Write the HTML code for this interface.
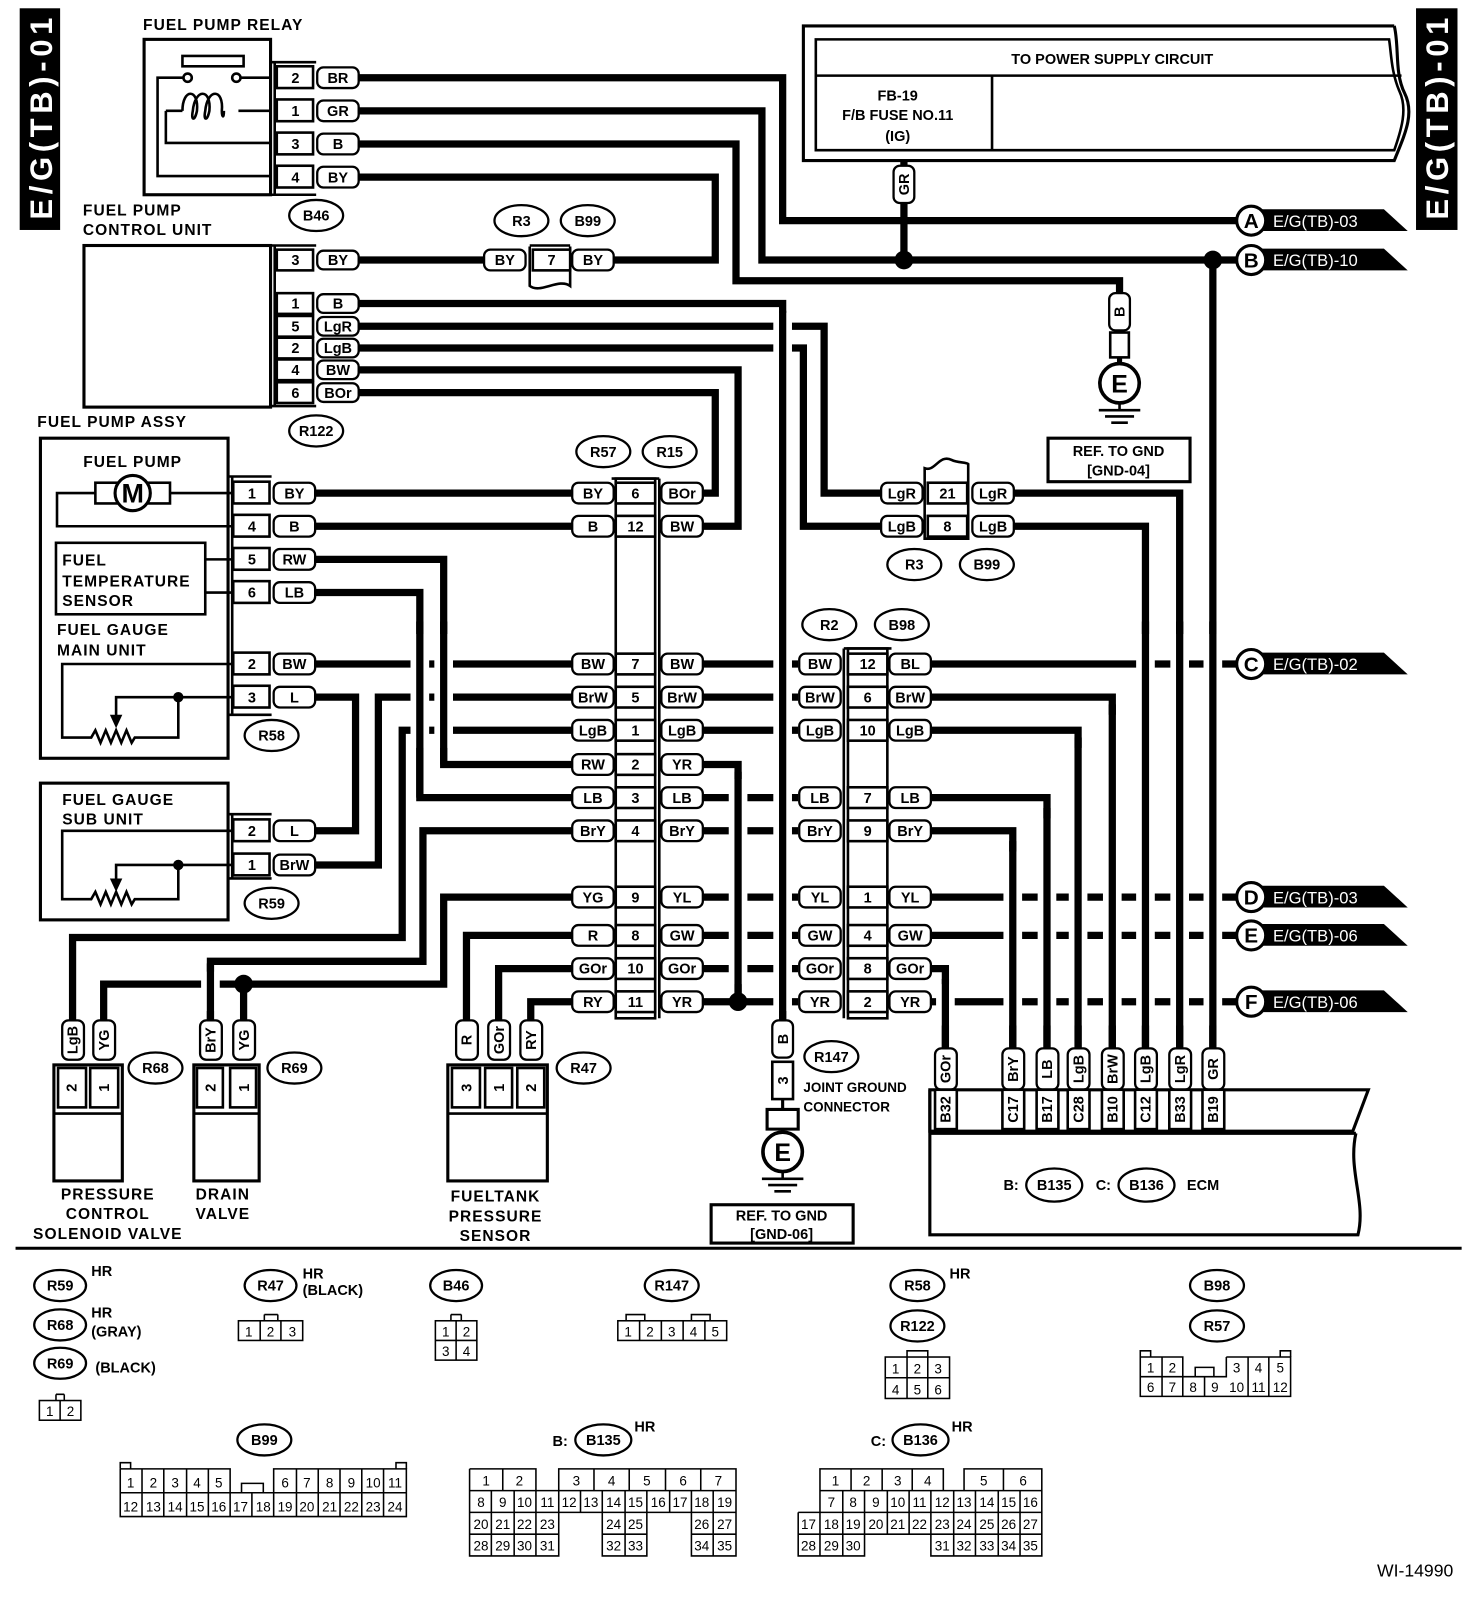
<!DOCTYPE html>
<html><head><meta charset="utf-8"><style>
html,body{margin:0;padding:0;background:#fff}
svg{display:block}
.w{stroke:#000;stroke-width:7;fill:none}
.h{stroke:#fff;stroke-width:18;fill:none}
.l{stroke:#000;stroke-width:2.5;fill:none}
.b{fill:#fff;stroke:#000;stroke-width:2.5}
.p{fill:#fff;stroke:#000;stroke-width:2.2}
text{font-family:"Liberation Sans",Arial,sans-serif;font-weight:bold;font-size:14px;fill:#000}
.c{text-anchor:middle}
.s{font-size:13px;font-weight:normal}
.lb{font-size:15px;letter-spacing:1px}
.wt{fill:#fff;font-size:16px;font-weight:normal}
</style></head><body>
<svg width="1472" height="1616" viewBox="0 0 1420 1560" preserveAspectRatio="none" xmlns="http://www.w3.org/2000/svg">
<rect x="0" y="0" width="1420" height="1560" fill="#fff"/>
<!-- side tabs -->
<rect x="19" y="8" width="39" height="214" fill="#000"/>
<text transform="translate(50,212) rotate(-90)" style="fill:#fff;font-size:30px" textLength="195">E/G(TB)-01</text>
<rect x="1366" y="8" width="40" height="214" fill="#000"/>
<text transform="translate(1397,212) rotate(-90)" style="fill:#fff;font-size:30px" textLength="195">E/G(TB)-01</text>

<!-- Fuel pump relay -->
<text x="138" y="29" class="lb">FUEL PUMP RELAY</text>
<rect x="139" y="38" width="122" height="150" class="l" style="stroke-width:3"/>
<rect x="176" y="54" width="59" height="10" class="l"/>
<circle cx="181" cy="75" r="4" class="b"/><circle cx="228" cy="75" r="4" class="b"/>
<path d="M177,75 H152 V170 H262 M232,75 H262 M160,107 H176 M230,107 H262 M160,107 V138 H262" class="l"/>
<path d="M176,107 c0,-22 16,-22 14,0 c-2,10 -6,10 -4,0 c2,-22 18,-22 16,0 c-2,10 -6,10 -4,0 c2,-22 18,-22 16,0 c0,6 2,8 2,0" class="l"/>
<path d="M262,60 H305 M262,188 H305 M265,60 V188" class="l"/>
<g>
<rect x="267" y="64" width="35" height="21" class="b"/><text x="285" y="80" class="c">2</text>
<rect x="267" y="96" width="35" height="21" class="b"/><text x="285" y="112" class="c">1</text>
<rect x="267" y="128" width="35" height="21" class="b"/><text x="285" y="144" class="c">3</text>
<rect x="267" y="160" width="35" height="21" class="b"/><text x="285" y="176" class="c">4</text>
</g>

<!-- Fuel pump control unit -->
<text x="80" y="208" class="lb">FUEL PUMP</text>
<text x="80" y="227" class="lb">CONTROL UNIT</text>
<rect x="81" y="237" width="180" height="156" class="l" style="stroke-width:3"/>
<path d="M262,237 H305 M262,392 H305 M265,237 V392" class="l"/>
<rect x="267" y="241" width="35" height="20" class="b"/><text x="285" y="256" class="c">3</text>
<rect x="267" y="283" width="35" height="20" class="b"/><text x="285" y="298" class="c">1</text>
<rect x="267" y="305" width="35" height="20" class="b"/><text x="285" y="320" class="c">5</text>
<rect x="267" y="326" width="35" height="20" class="b"/><text x="285" y="341" class="c">2</text>
<rect x="267" y="347" width="35" height="20" class="b"/><text x="285" y="362" class="c">4</text>
<rect x="267" y="369" width="35" height="20" class="b"/><text x="285" y="384" class="c">6</text>

<!-- Power supply box -->
<path d="M1345,25 H775 V155 H1345 C1355,130 1365,110 1355,90 C1345,70 1350,45 1345,25" class="l" style="stroke-width:3"/>
<path d="M1336,38 H787 V145 H1345 C1352,125 1358,105 1350,88 C1342,70 1342,50 1340,38 Z" class="l"/>
<path d="M787,73 H1352 M957,73 V145" class="l"/>
<text x="1073" y="62" class="c">TO POWER SUPPLY CIRCUIT</text>
<text x="866" y="97" class="c">FB-19</text>
<text x="866" y="116" class="c">F/B FUSE NO.11</text>
<text x="866" y="136" class="c">(IG)</text>

<!-- WIRES -->
<g class="w">
<path d="M346,75 H755 V213 H1193"/>
<path d="M346,107 H735 V251 H1193"/>
<path d="M346,139 H710 V271 H1080 V283"/>
<path d="M346,171 H690 V251 H592"/>
<path d="M872,155 V251"/>
<path d="M346,251 H467"/>
<path d="M346,293 H755 V985"/>
<path d="M346,315 H795 V476 H850"/>
<path d="M346,336 H775 V508 H850"/>
<path d="M346,357 H712 V508 H678"/>
<path d="M346,379 H690 V476 H678"/>
<path d="M304,476 H552 M304,508 H552"/>
<path d="M304,540 H428 V738 H552"/>
<path d="M304,572 H405 V770 H552"/>
<path d="M304,641 H552"/>
<path d="M304,673 H343 V802 H304"/>
<path d="M304,835 H365 V673 H552"/>
<path d="M552,705 H388 V905 H70 V985"/>
<path d="M552,802 H408 V928 H203 V985"/>
<path d="M552,866 H428 V950 H100 V985 M235,950 V985"/>
<path d="M552,903 H450 V985"/>
<path d="M552,935 H481 V985"/>
<path d="M552,967 H512 V985"/>
<path d="M678,641 H770 M678,673 H770 M678,705 H770 M678,770 H770 M678,802 H770 M678,866 H770 M678,903 H770 M678,935 H770 M678,967 H770"/>
<path d="M678,738 H712 V967"/>
<path d="M978,476 H1138 V1012 M978,508 H1105 V1012"/>
<path d="M898,641 H1193 M898,866 H1193 M898,903 H1193 M898,967 H1193"/>
<path d="M898,673 H1073 V1012 M898,705 H1040 V1012 M898,770 H1010 V1012 M898,802 H977 V1012 M898,935 H912 V1012"/>
<path d="M1170,251 V1012"/>
</g>
<!-- crossing halos -->
<g class="h">
<path d="M755,302 V976 M712,752 V950 M428,612 V722 M405,612 V722 M203,938 V976"/>
<path d="M1170,612 V990 M1138,612 V990 M1105,612 V990 M1073,690 V990 M1040,722 V990 M1010,790 V990 M977,822 V990 M912,950 V990"/>
</g>
<g class="w">
<path d="M755,300 V985 M712,745 V967 M428,600 V738 M405,600 V770 M203,930 V985"/>
<path d="M1170,600 V1012 M1138,600 V1012 M1105,600 V1012 M1073,680 V1012 M1040,712 V1012 M1010,780 V1012 M977,812 V1012 M912,945 V1012"/>
</g>
<g fill="#000">
<circle cx="872" cy="251" r="9"/><circle cx="1170" cy="251" r="9"/>
<circle cx="712" cy="967" r="9"/><circle cx="235" cy="950" r="9"/>
</g>

<!-- terminal arrows -->
<g>
<polygon points="1213,202 1335,202 1358,223 1213,223" fill="#000"/>
<circle cx="1207" cy="213" r="14" class="b" style="stroke-width:3"/><text x="1207" y="220" class="c" style="font-size:20px">A</text>
<text x="1228" y="219" class="wt">E/G(TB)-03</text>
<polygon points="1213,240 1335,240 1358,261 1213,261" fill="#000"/>
<circle cx="1207" cy="251" r="14" class="b" style="stroke-width:3"/><text x="1207" y="258" class="c" style="font-size:20px">B</text>
<text x="1228" y="257" class="wt">E/G(TB)-10</text>
<polygon points="1213,630 1335,630 1358,651 1213,651" fill="#000"/>
<circle cx="1207" cy="641" r="14" class="b" style="stroke-width:3"/><text x="1207" y="648" class="c" style="font-size:20px">C</text>
<text x="1228" y="647" class="wt">E/G(TB)-02</text>
<polygon points="1213,855 1335,855 1358,876 1213,876" fill="#000"/>
<circle cx="1207" cy="866" r="14" class="b" style="stroke-width:3"/><text x="1207" y="873" class="c" style="font-size:20px">D</text>
<text x="1228" y="872" class="wt">E/G(TB)-03</text>
<polygon points="1213,892 1335,892 1358,913 1213,913" fill="#000"/>
<circle cx="1207" cy="903" r="14" class="b" style="stroke-width:3"/><text x="1207" y="910" class="c" style="font-size:20px">E</text>
<text x="1228" y="909" class="wt">E/G(TB)-06</text>
<polygon points="1213,956 1335,956 1358,977 1213,977" fill="#000"/>
<circle cx="1207" cy="967" r="14" class="b" style="stroke-width:3"/><text x="1207" y="974" class="c" style="font-size:20px">F</text>
<text x="1228" y="973" class="wt">E/G(TB)-06</text>
</g>

<!-- horizontal pills -->
<g>
<rect x="306" y="65" width="40" height="20" rx="6" class="p"/><text x="326" y="80" class="c">BR</text>
<rect x="306" y="97" width="40" height="20" rx="6" class="p"/><text x="326" y="112" class="c">GR</text>
<rect x="306" y="129" width="40" height="20" rx="6" class="p"/><text x="326" y="144" class="c">B</text>
<rect x="306" y="161" width="40" height="20" rx="6" class="p"/><text x="326" y="176" class="c">BY</text>
<rect x="306" y="242" width="40" height="18" rx="6" class="p"/><text x="326" y="256" class="c">BY</text>
<rect x="306" y="284" width="40" height="18" rx="6" class="p"/><text x="326" y="298" class="c">B</text>
<rect x="306" y="306" width="40" height="18" rx="6" class="p"/><text x="326" y="320" class="c">LgR</text>
<rect x="306" y="327" width="40" height="18" rx="6" class="p"/><text x="326" y="341" class="c">LgB</text>
<rect x="306" y="348" width="40" height="18" rx="6" class="p"/><text x="326" y="362" class="c">BW</text>
<rect x="306" y="370" width="40" height="18" rx="6" class="p"/><text x="326" y="384" class="c">BOr</text>
<rect x="467" y="241" width="40" height="20" rx="6" class="p"/><text x="487" y="256" class="c">BY</text>
<rect x="552" y="241" width="40" height="20" rx="6" class="p"/><text x="572" y="256" class="c">BY</text>
</g>
<!-- upper R3/B99 joint -->
<path d="M511,237 H550 M511,238 V276 c10,8 28,-8 39,0 V238" class="l"/>
<rect x="514" y="241" width="36" height="20" class="b"/><text x="532" y="256" class="c">7</text>

<!-- Fuel pump assy -->
<text x="36" y="412" class="lb">FUEL PUMP ASSY</text>
<rect x="39" y="423" width="181" height="309" class="l" style="stroke-width:3"/>
<text x="128" y="451" class="c lb">FUEL PUMP</text>
<rect x="92" y="466" width="22" height="20" class="l"/><rect x="142" y="466" width="22" height="20" class="l"/>
<circle cx="128" cy="476" r="17" class="b" style="stroke-width:3"/>
<text x="128" y="485" class="c" style="font-size:26px">M</text>
<path d="M164,476 H224 M92,476 H55 V508 H224" class="l"/>
<rect x="54" y="524" width="144" height="69" class="l"/>
<text x="60" y="546" class="lb">FUEL</text><text x="60" y="566" class="lb">TEMPERATURE</text><text x="60" y="585" class="lb">SENSOR</text>
<path d="M198,540 H224 M198,572 H224" class="l"/>
<text x="55" y="613" class="lb">FUEL GAUGE</text><text x="55" y="633" class="lb">MAIN UNIT</text>
<path d="M224,641 H60 V712 H88 l4,-7 l5,12 l5,-12 l5,12 l5,-12 l5,12 l5,-12 l5,12 l3,-5 H172 V673 M224,673 H112 V692" class="l"/>
<polygon points="106,690 118,690 112,703" fill="#000"/>
<circle cx="172" cy="673" r="5" fill="#000"/>
<path d="M220,460 H262 M220,690 H262 M224,460 V690" class="l"/>
<g>
<rect x="225" y="465" width="35" height="21" class="b"/><text x="243" y="481" class="c">1</text>
<rect x="225" y="497" width="35" height="21" class="b"/><text x="243" y="513" class="c">4</text>
<rect x="225" y="529" width="35" height="21" class="b"/><text x="243" y="545" class="c">5</text>
<rect x="225" y="561" width="35" height="21" class="b"/><text x="243" y="577" class="c">6</text>
<rect x="225" y="630" width="35" height="21" class="b"/><text x="243" y="646" class="c">2</text>
<rect x="225" y="662" width="35" height="21" class="b"/><text x="243" y="678" class="c">3</text>
</g>
<g>
<rect x="264" y="466" width="40" height="20" rx="6" class="p"/><text x="284" y="481" class="c">BY</text>
<rect x="264" y="498" width="40" height="20" rx="6" class="p"/><text x="284" y="513" class="c">B</text>
<rect x="264" y="530" width="40" height="20" rx="6" class="p"/><text x="284" y="545" class="c">RW</text>
<rect x="264" y="562" width="40" height="20" rx="6" class="p"/><text x="284" y="577" class="c">LB</text>
<rect x="264" y="631" width="40" height="20" rx="6" class="p"/><text x="284" y="646" class="c">BW</text>
<rect x="264" y="663" width="40" height="20" rx="6" class="p"/><text x="284" y="678" class="c">L</text>
</g>

<!-- Fuel gauge sub unit -->
<rect x="39" y="756" width="181" height="132" class="l" style="stroke-width:3"/>
<text x="60" y="777" class="lb">FUEL GAUGE</text><text x="60" y="796" class="lb">SUB UNIT</text>
<path d="M224,802 H60 V868 H88 l4,-7 l5,12 l5,-12 l5,12 l5,-12 l5,12 l5,-12 l5,12 l3,-5 H172 V835 M224,835 H112 V850" class="l"/>
<polygon points="106,848 118,848 112,861" fill="#000"/>
<circle cx="172" cy="835" r="5" fill="#000"/>
<path d="M220,786 H262 M220,848 H262 M224,786 V848" class="l"/>
<rect x="225" y="791" width="35" height="21" class="b"/><text x="243" y="807" class="c">2</text>
<rect x="225" y="824" width="35" height="21" class="b"/><text x="243" y="840" class="c">1</text>
<rect x="264" y="792" width="40" height="20" rx="6" class="p"/><text x="284" y="807" class="c">L</text>
<rect x="264" y="825" width="40" height="20" rx="6" class="p"/><text x="284" y="840" class="c">BrW</text>

<!-- R57/R15 joint -->
<rect x="594" y="462" width="38" height="521" class="l"/>
<path d="M590,462 H636 M636,462 V983" class="l"/>
<g>
<rect x="552" y="466" width="40" height="20" rx="6" class="p"/><text x="572" y="481" class="c">BY</text>
<rect x="552" y="498" width="40" height="20" rx="6" class="p"/><text x="572" y="513" class="c">B</text>
<rect x="552" y="631" width="40" height="20" rx="6" class="p"/><text x="572" y="646" class="c">BW</text>
<rect x="552" y="663" width="40" height="20" rx="6" class="p"/><text x="572" y="678" class="c">BrW</text>
<rect x="552" y="695" width="40" height="20" rx="6" class="p"/><text x="572" y="710" class="c">LgB</text>
<rect x="552" y="728" width="40" height="20" rx="6" class="p"/><text x="572" y="743" class="c">RW</text>
<rect x="552" y="760" width="40" height="20" rx="6" class="p"/><text x="572" y="775" class="c">LB</text>
<rect x="552" y="792" width="40" height="20" rx="6" class="p"/><text x="572" y="807" class="c">BrY</text>
<rect x="552" y="856" width="40" height="20" rx="6" class="p"/><text x="572" y="871" class="c">YG</text>
<rect x="552" y="893" width="40" height="20" rx="6" class="p"/><text x="572" y="908" class="c">R</text>
<rect x="552" y="925" width="40" height="20" rx="6" class="p"/><text x="572" y="940" class="c">GOr</text>
<rect x="552" y="957" width="40" height="20" rx="6" class="p"/><text x="572" y="972" class="c">RY</text>

<rect x="594" y="466" width="38" height="20" class="b"/><text x="613" y="481" class="c">6</text>
<rect x="594" y="498" width="38" height="20" class="b"/><text x="613" y="513" class="c">12</text>
<rect x="594" y="631" width="38" height="20" class="b"/><text x="613" y="646" class="c">7</text>
<rect x="594" y="663" width="38" height="20" class="b"/><text x="613" y="678" class="c">5</text>
<rect x="594" y="695" width="38" height="20" class="b"/><text x="613" y="710" class="c">1</text>
<rect x="594" y="728" width="38" height="20" class="b"/><text x="613" y="743" class="c">2</text>
<rect x="594" y="760" width="38" height="20" class="b"/><text x="613" y="775" class="c">3</text>
<rect x="594" y="792" width="38" height="20" class="b"/><text x="613" y="807" class="c">4</text>
<rect x="594" y="856" width="38" height="20" class="b"/><text x="613" y="871" class="c">9</text>
<rect x="594" y="893" width="38" height="20" class="b"/><text x="613" y="908" class="c">8</text>
<rect x="594" y="925" width="38" height="20" class="b"/><text x="613" y="940" class="c">10</text>
<rect x="594" y="957" width="38" height="20" class="b"/><text x="613" y="972" class="c">11</text>

<rect x="638" y="466" width="40" height="20" rx="6" class="p"/><text x="658" y="481" class="c">BOr</text>
<rect x="638" y="498" width="40" height="20" rx="6" class="p"/><text x="658" y="513" class="c">BW</text>
<rect x="638" y="631" width="40" height="20" rx="6" class="p"/><text x="658" y="646" class="c">BW</text>
<rect x="638" y="663" width="40" height="20" rx="6" class="p"/><text x="658" y="678" class="c">BrW</text>
<rect x="638" y="695" width="40" height="20" rx="6" class="p"/><text x="658" y="710" class="c">LgB</text>
<rect x="638" y="728" width="40" height="20" rx="6" class="p"/><text x="658" y="743" class="c">YR</text>
<rect x="638" y="760" width="40" height="20" rx="6" class="p"/><text x="658" y="775" class="c">LB</text>
<rect x="638" y="792" width="40" height="20" rx="6" class="p"/><text x="658" y="807" class="c">BrY</text>
<rect x="638" y="856" width="40" height="20" rx="6" class="p"/><text x="658" y="871" class="c">YL</text>
<rect x="638" y="893" width="40" height="20" rx="6" class="p"/><text x="658" y="908" class="c">GW</text>
<rect x="638" y="925" width="40" height="20" rx="6" class="p"/><text x="658" y="940" class="c">GOr</text>
<rect x="638" y="957" width="40" height="20" rx="6" class="p"/><text x="658" y="972" class="c">YR</text>
</g>

<!-- R2/B98 joint -->
<rect x="818" y="626" width="38" height="357" class="l"/>
<path d="M814,626 H860 M814,626 V983" class="l"/>
<g>
<rect x="771" y="631" width="40" height="20" rx="6" class="p"/><text x="791" y="646" class="c">BW</text>
<rect x="771" y="663" width="40" height="20" rx="6" class="p"/><text x="791" y="678" class="c">BrW</text>
<rect x="771" y="695" width="40" height="20" rx="6" class="p"/><text x="791" y="710" class="c">LgB</text>
<rect x="771" y="760" width="40" height="20" rx="6" class="p"/><text x="791" y="775" class="c">LB</text>
<rect x="771" y="792" width="40" height="20" rx="6" class="p"/><text x="791" y="807" class="c">BrY</text>
<rect x="771" y="856" width="40" height="20" rx="6" class="p"/><text x="791" y="871" class="c">YL</text>
<rect x="771" y="893" width="40" height="20" rx="6" class="p"/><text x="791" y="908" class="c">GW</text>
<rect x="771" y="925" width="40" height="20" rx="6" class="p"/><text x="791" y="940" class="c">GOr</text>
<rect x="771" y="957" width="40" height="20" rx="6" class="p"/><text x="791" y="972" class="c">YR</text>

<rect x="818" y="631" width="38" height="20" class="b"/><text x="837" y="646" class="c">12</text>
<rect x="818" y="663" width="38" height="20" class="b"/><text x="837" y="678" class="c">6</text>
<rect x="818" y="695" width="38" height="20" class="b"/><text x="837" y="710" class="c">10</text>
<rect x="818" y="760" width="38" height="20" class="b"/><text x="837" y="775" class="c">7</text>
<rect x="818" y="792" width="38" height="20" class="b"/><text x="837" y="807" class="c">9</text>
<rect x="818" y="856" width="38" height="20" class="b"/><text x="837" y="871" class="c">1</text>
<rect x="818" y="893" width="38" height="20" class="b"/><text x="837" y="908" class="c">4</text>
<rect x="818" y="925" width="38" height="20" class="b"/><text x="837" y="940" class="c">8</text>
<rect x="818" y="957" width="38" height="20" class="b"/><text x="837" y="972" class="c">2</text>

<rect x="858" y="631" width="40" height="20" rx="6" class="p"/><text x="878" y="646" class="c">BL</text>
<rect x="858" y="663" width="40" height="20" rx="6" class="p"/><text x="878" y="678" class="c">BrW</text>
<rect x="858" y="695" width="40" height="20" rx="6" class="p"/><text x="878" y="710" class="c">LgB</text>
<rect x="858" y="760" width="40" height="20" rx="6" class="p"/><text x="878" y="775" class="c">LB</text>
<rect x="858" y="792" width="40" height="20" rx="6" class="p"/><text x="878" y="807" class="c">BrY</text>
<rect x="858" y="856" width="40" height="20" rx="6" class="p"/><text x="878" y="871" class="c">YL</text>
<rect x="858" y="893" width="40" height="20" rx="6" class="p"/><text x="878" y="908" class="c">GW</text>
<rect x="858" y="925" width="40" height="20" rx="6" class="p"/><text x="878" y="940" class="c">GOr</text>
<rect x="858" y="957" width="40" height="20" rx="6" class="p"/><text x="878" y="972" class="c">YR</text>
</g>

<!-- lower R3/B99 joint -->
<path d="M892,520 V452 c10,4 14,-14 26,-8 c6,3 14,2 16,4 V520 Z M892,520 H935" class="l"/>
<rect x="895" y="466" width="38" height="20" class="b"/><text x="914" y="481" class="c">21</text>
<rect x="895" y="498" width="38" height="20" class="b"/><text x="914" y="513" class="c">8</text>
<rect x="850" y="466" width="40" height="20" rx="6" class="p"/><text x="870" y="481" class="c">LgR</text>
<rect x="850" y="498" width="40" height="20" rx="6" class="p"/><text x="870" y="513" class="c">LgB</text>
<rect x="938" y="466" width="40" height="20" rx="6" class="p"/><text x="958" y="481" class="c">LgR</text>
<rect x="938" y="498" width="40" height="20" rx="6" class="p"/><text x="958" y="513" class="c">LgB</text>

<!-- vertical pills -->
<g>
<rect x="862" y="160" width="20" height="36" rx="6" class="p"/><text transform="translate(877,178) rotate(-90)" class="c">GR</text>
<rect x="1070" y="283" width="20" height="36" rx="6" class="p"/><text transform="translate(1085,301) rotate(-90)" class="c">B</text>
<rect x="745" y="985" width="20" height="36" rx="6" class="p"/><text transform="translate(760,1003) rotate(-90)" class="c">B</text>
<rect x="60" y="985" width="21" height="38" rx="6" class="p"/><text transform="translate(75,1004) rotate(-90)" class="c">LgB</text>
<rect x="90" y="985" width="21" height="38" rx="6" class="p"/><text transform="translate(105,1004) rotate(-90)" class="c">YG</text>
<rect x="193" y="985" width="21" height="38" rx="6" class="p"/><text transform="translate(208,1004) rotate(-90)" class="c">BrY</text>
<rect x="225" y="985" width="21" height="38" rx="6" class="p"/><text transform="translate(240,1004) rotate(-90)" class="c">YG</text>
<rect x="440" y="985" width="21" height="38" rx="6" class="p"/><text transform="translate(455,1004) rotate(-90)" class="c">R</text>
<rect x="471" y="985" width="21" height="38" rx="6" class="p"/><text transform="translate(486,1004) rotate(-90)" class="c">GOr</text>
<rect x="502" y="985" width="21" height="38" rx="6" class="p"/><text transform="translate(517,1004) rotate(-90)" class="c">RY</text>
<rect x="902" y="1012" width="21" height="40" rx="6" class="p"/><text transform="translate(917,1032) rotate(-90)" class="c">GOr</text>
<rect x="967" y="1012" width="21" height="40" rx="6" class="p"/><text transform="translate(982,1032) rotate(-90)" class="c">BrY</text>
<rect x="1000" y="1012" width="21" height="40" rx="6" class="p"/><text transform="translate(1015,1032) rotate(-90)" class="c">LB</text>
<rect x="1030" y="1012" width="21" height="40" rx="6" class="p"/><text transform="translate(1045,1032) rotate(-90)" class="c">LgB</text>
<rect x="1063" y="1012" width="21" height="40" rx="6" class="p"/><text transform="translate(1078,1032) rotate(-90)" class="c">BrW</text>
<rect x="1095" y="1012" width="21" height="40" rx="6" class="p"/><text transform="translate(1110,1032) rotate(-90)" class="c">LgB</text>
<rect x="1128" y="1012" width="21" height="40" rx="6" class="p"/><text transform="translate(1143,1032) rotate(-90)" class="c">LgR</text>
<rect x="1160" y="1012" width="21" height="40" rx="6" class="p"/><text transform="translate(1175,1032) rotate(-90)" class="c">GR</text>
</g>

<!-- ground at top -->
<rect x="1071" y="321" width="18" height="24" class="b"/>
<path d="M1080,345 V350" class="l" style="stroke-width:5"/>
<circle cx="1080" cy="370" r="19" class="b" style="stroke-width:3.5"/>
<text x="1080" y="379" class="c" style="font-size:24px">E</text>
<path d="M1080,389 V396 M1060,396 H1100 M1066,402 H1094 M1072,408 H1088" class="l"/>
<rect x="1011" y="423" width="137" height="42" class="l" style="stroke-width:3"/>
<text x="1079" y="440" class="c">REF. TO GND</text><text x="1079" y="459" class="c">[GND-04]</text>

<!-- R147 ground -->
<rect x="745" y="1025" width="20" height="36" class="b"/><text transform="translate(760,1043) rotate(-90)" class="c">3</text>
<path d="M755,1061 V1071 M740,1071 H770 V1090 H740 Z" class="l" style="stroke-width:3"/>
<circle cx="755" cy="1112" r="19" class="b" style="stroke-width:3.5"/>
<text x="755" y="1121" class="c" style="font-size:24px">E</text>
<path d="M755,1131 V1138 M735,1138 H775 M741,1144 H769 M747,1150 H763" class="l"/>
<rect x="686" y="1163" width="137" height="37" class="l" style="stroke-width:3"/>
<text x="754" y="1178" class="c">REF. TO GND</text><text x="754" y="1196" class="c">[GND-06]</text>
<text x="775" y="1054" class="s" style="font-weight:bold">JOINT GROUND</text>
<text x="775" y="1073" class="s" style="font-weight:bold">CONNECTOR</text>

<!-- valves -->
<rect x="52" y="1028" width="66" height="112" class="l" style="stroke-width:3"/>
<rect x="56" y="1031" width="27" height="38" class="b"/><text transform="translate(74,1050) rotate(-90)" class="c">2</text>
<rect x="87" y="1031" width="27" height="38" class="b"/><text transform="translate(105,1050) rotate(-90)" class="c">1</text>
<path d="M52,1075 H118" class="l"/>
<rect x="187" y="1028" width="63" height="112" class="l" style="stroke-width:3"/>
<rect x="190" y="1031" width="25" height="38" class="b"/><text transform="translate(208,1050) rotate(-90)" class="c">2</text>
<rect x="222" y="1031" width="25" height="38" class="b"/><text transform="translate(240,1050) rotate(-90)" class="c">1</text>
<path d="M187,1075 H250" class="l"/>
<rect x="432" y="1028" width="96" height="112" class="l" style="stroke-width:3"/>
<rect x="436" y="1031" width="27" height="38" class="b"/><text transform="translate(455,1050) rotate(-90)" class="c">3</text>
<rect x="468" y="1031" width="26" height="38" class="b"/><text transform="translate(486,1050) rotate(-90)" class="c">1</text>
<rect x="499" y="1031" width="26" height="38" class="b"/><text transform="translate(517,1050) rotate(-90)" class="c">2</text>
<path d="M432,1075 H528" class="l"/>
<text x="104" y="1158" class="c lb">PRESSURE</text><text x="104" y="1177" class="c lb">CONTROL</text><text x="104" y="1196" class="c lb">SOLENOID VALVE</text>
<text x="215" y="1158" class="c lb">DRAIN</text><text x="215" y="1177" class="c lb">VALVE</text>
<text x="478" y="1160" class="c lb">FUELTANK</text><text x="478" y="1179" class="c lb">PRESSURE</text><text x="478" y="1198" class="c lb">SENSOR</text>

<!-- ECM -->
<path d="M897,1052 H1320 L1305,1092 H897 Z" class="l" style="stroke-width:3"/>
<path d="M897,1052 V1192 H1310 C1318,1160 1300,1130 1308,1094 M897,1094 H1308" class="l" style="stroke-width:3"/>
<g>
<rect x="902" y="1052" width="21" height="38" class="b"/><text transform="translate(917,1071) rotate(-90)" class="c">B32</text>
<rect x="967" y="1052" width="21" height="38" class="b"/><text transform="translate(982,1071) rotate(-90)" class="c">C17</text>
<rect x="1000" y="1052" width="21" height="38" class="b"/><text transform="translate(1015,1071) rotate(-90)" class="c">B17</text>
<rect x="1030" y="1052" width="21" height="38" class="b"/><text transform="translate(1045,1071) rotate(-90)" class="c">C28</text>
<rect x="1063" y="1052" width="21" height="38" class="b"/><text transform="translate(1078,1071) rotate(-90)" class="c">B10</text>
<rect x="1095" y="1052" width="21" height="38" class="b"/><text transform="translate(1110,1071) rotate(-90)" class="c">C12</text>
<rect x="1128" y="1052" width="21" height="38" class="b"/><text transform="translate(1143,1071) rotate(-90)" class="c">B33</text>
<rect x="1160" y="1052" width="21" height="38" class="b"/><text transform="translate(1175,1071) rotate(-90)" class="c">B19</text>
</g>
<text x="968" y="1149">B:</text><text x="1057" y="1149">C:</text><text x="1145" y="1149">ECM</text>

<!-- ovals -->
<g>
<ellipse cx="305" cy="208" rx="26" ry="15" class="p"/><text x="305" y="213" class="c">B46</text>
<ellipse cx="503" cy="213" rx="26" ry="15" class="p"/><text x="503" y="218" class="c">R3</text>
<ellipse cx="567" cy="213" rx="26" ry="15" class="p"/><text x="567" y="218" class="c">B99</text>
<ellipse cx="305" cy="416" rx="26" ry="15" class="p"/><text x="305" y="421" class="c">R122</text>
<ellipse cx="582" cy="436" rx="26" ry="15" class="p"/><text x="582" y="441" class="c">R57</text>
<ellipse cx="646" cy="436" rx="26" ry="15" class="p"/><text x="646" y="441" class="c">R15</text>
<ellipse cx="882" cy="545" rx="26" ry="15" class="p"/><text x="882" y="550" class="c">R3</text>
<ellipse cx="952" cy="545" rx="26" ry="15" class="p"/><text x="952" y="550" class="c">B99</text>
<ellipse cx="800" cy="603" rx="26" ry="15" class="p"/><text x="800" y="608" class="c">R2</text>
<ellipse cx="870" cy="603" rx="26" ry="15" class="p"/><text x="870" y="608" class="c">B98</text>
<ellipse cx="262" cy="710" rx="26" ry="15" class="p"/><text x="262" y="715" class="c">R58</text>
<ellipse cx="262" cy="872" rx="26" ry="15" class="p"/><text x="262" y="877" class="c">R59</text>
<ellipse cx="150" cy="1031" rx="26" ry="15" class="p"/><text x="150" y="1036" class="c">R68</text>
<ellipse cx="284" cy="1031" rx="26" ry="15" class="p"/><text x="284" y="1036" class="c">R69</text>
<ellipse cx="563" cy="1031" rx="26" ry="15" class="p"/><text x="563" y="1036" class="c">R47</text>
<ellipse cx="802" cy="1020" rx="26" ry="15" class="p"/><text x="802" y="1025" class="c">R147</text>
<ellipse cx="1017" cy="1144" rx="27" ry="16" class="p"/><text x="1017" y="1149" class="c">B135</text>
<ellipse cx="1106" cy="1144" rx="27" ry="16" class="p"/><text x="1106" y="1149" class="c">B136</text>
</g>

<!-- bottom divider -->
<path d="M15,1205 H1410" stroke="#000" stroke-width="3"/>

<!-- connector legends -->
<g>
<ellipse cx="58" cy="1241" rx="25" ry="15" class="p"/><text x="58" y="1246" class="c">R59</text><text x="88" y="1232">HR</text>
<ellipse cx="58" cy="1279" rx="25" ry="15" class="p"/><text x="58" y="1284" class="c">R68</text><text x="88" y="1272">HR</text><text x="88" y="1290">(GRAY)</text>
<ellipse cx="58" cy="1316" rx="25" ry="15" class="p"/><text x="58" y="1321" class="c">R69</text><text x="92" y="1325">(BLACK)</text>
<path d="M54,1346 V1352 M62,1346 V1352 M54,1346 H62" class="l" style="stroke-width:1.5"/>
<rect x="38" y="1352" width="40" height="19" class="l" style="stroke-width:1.5"/><path d="M58,1352 V1371" class="l" style="stroke-width:1.5"/>
<text x="48" y="1367" class="c s">1</text><text x="68" y="1367" class="c s">2</text>

<ellipse cx="261" cy="1241" rx="25" ry="15" class="p"/><text x="261" y="1246" class="c">R47</text><text x="292" y="1234">HR</text><text x="292" y="1250">(BLACK)</text>
<path d="M255,1269 V1275 M268,1269 V1275 M255,1269 H268" class="l" style="stroke-width:1.5"/>
<rect x="230" y="1275" width="62" height="19" class="l" style="stroke-width:1.5"/><path d="M251,1275 V1294 M271,1275 V1294" class="l" style="stroke-width:1.5"/>
<text x="240" y="1290" class="c s">1</text><text x="261" y="1290" class="c s">2</text><text x="282" y="1290" class="c s">3</text>

<ellipse cx="440" cy="1241" rx="25" ry="15" class="p"/><text x="440" y="1246" class="c">B46</text>
<path d="M435,1269 V1275 M445,1269 V1275 M435,1269 H445" class="l" style="stroke-width:1.5"/>
<rect x="420" y="1275" width="40" height="38" class="l" style="stroke-width:1.5"/><path d="M440,1275 V1313 M420,1294 H460" class="l" style="stroke-width:1.5"/>
<text x="430" y="1290" class="c s">1</text><text x="450" y="1290" class="c s">2</text><text x="430" y="1309" class="c s">3</text><text x="450" y="1309" class="c s">4</text>

<ellipse cx="648" cy="1241" rx="26" ry="15" class="p"/><text x="648" y="1246" class="c">R147</text>
<path d="M604,1275 V1269 H622 V1275 M667,1275 V1269 H685 V1275" class="l" style="stroke-width:1.5"/>
<rect x="596" y="1275" width="105" height="19" class="l" style="stroke-width:1.5"/><path d="M617,1275 V1294 M638,1275 V1294 M659,1275 V1294 M680,1275 V1294" class="l" style="stroke-width:1.5"/>
<text x="606" y="1290" class="c s">1</text><text x="627" y="1290" class="c s">2</text><text x="648" y="1290" class="c s">3</text><text x="669" y="1290" class="c s">4</text><text x="690" y="1290" class="c s">5</text>

<ellipse cx="885" cy="1241" rx="26" ry="15" class="p"/><text x="885" y="1246" class="c">R58</text><text x="916" y="1234">HR</text>
<ellipse cx="885" cy="1280" rx="26" ry="15" class="p"/><text x="885" y="1285" class="c">R122</text>
<path d="M875,1310 V1304 H895 V1310" class="l" style="stroke-width:1.5"/>
<rect x="854" y="1310" width="62" height="40" class="l" style="stroke-width:1.5"/><path d="M875,1310 V1350 M895,1310 V1350 M854,1330 H916" class="l" style="stroke-width:1.5"/>
<text x="864" y="1326" class="c s">1</text><text x="885" y="1326" class="c s">2</text><text x="905" y="1326" class="c s">3</text>
<text x="864" y="1346" class="c s">4</text><text x="885" y="1346" class="c s">5</text><text x="905" y="1346" class="c s">6</text>

<ellipse cx="1174" cy="1241" rx="26" ry="15" class="p"/><text x="1174" y="1246" class="c">B98</text>
<ellipse cx="1174" cy="1280" rx="26" ry="15" class="p"/><text x="1174" y="1285" class="c">R57</text>
<g class="l" style="stroke-width:1.5">
<path d="M1100,1310 V1304 H1110 V1310 M1235,1310 V1304 H1245 V1310"/>
<path d="M1100,1310 H1141 V1329 M1183,1310 H1245 V1348 H1100 V1310 M1183,1310 V1329 H1100 M1121,1310 V1348 M1141,1329 V1348 M1162,1329 V1348 M1204,1310 V1348 M1224,1310 V1348 M1141,1329 H1183"/>
<path d="M1153,1329 V1320 H1171 V1329"/>
</g>
<text x="1110" y="1325" class="c s">1</text><text x="1131" y="1325" class="c s">2</text><text x="1193" y="1325" class="c s">3</text><text x="1214" y="1325" class="c s">4</text><text x="1235" y="1325" class="c s">5</text>
<text x="1110" y="1344" class="c s">6</text><text x="1131" y="1344" class="c s">7</text><text x="1151" y="1344" class="c s">8</text><text x="1172" y="1344" class="c s">9</text><text x="1193" y="1344" class="c s">10</text><text x="1214" y="1344" class="c s">11</text><text x="1235" y="1344" class="c s">12</text>
</g>

<!-- B99 -->
<ellipse cx="255" cy="1390" rx="26" ry="15" class="p"/><text x="255" y="1395" class="c">B99</text>
<g class="l" style="stroke-width:1.5">
<path d="M116,1418 V1412 H126 V1418 M382,1418 V1412 H392 V1418"/>
<path d="M116,1418 H222 V1441 M264,1441 V1418 H392 V1464 H116 V1418 M116,1441 H392"/>
<path d="M137,1418 V1464 M158,1418 V1464 M180,1418 V1464 M201,1418 V1464 M222,1441 V1464 M243,1441 V1464 M264,1441 V1464 M286,1418 V1464 M307,1418 V1464 M328,1418 V1464 M349,1418 V1464 M370,1418 V1464"/>
<path d="M233,1441 V1432 H254 V1441"/>
</g>
<g>
<text x="126" y="1436" class="c s">1</text><text x="148" y="1436" class="c s">2</text><text x="169" y="1436" class="c s">3</text><text x="190" y="1436" class="c s">4</text><text x="211" y="1436" class="c s">5</text>
<text x="275" y="1436" class="c s">6</text><text x="296" y="1436" class="c s">7</text><text x="318" y="1436" class="c s">8</text><text x="339" y="1436" class="c s">9</text><text x="360" y="1436" class="c s">10</text><text x="381" y="1436" class="c s">11</text>
</g>
<g>
<text x="126" y="1459" class="c s">12</text><text x="148" y="1459" class="c s">13</text><text x="169" y="1459" class="c s">14</text><text x="190" y="1459" class="c s">15</text><text x="211" y="1459" class="c s">16</text><text x="232" y="1459" class="c s">17</text><text x="254" y="1459" class="c s">18</text><text x="275" y="1459" class="c s">19</text><text x="296" y="1459" class="c s">20</text><text x="318" y="1459" class="c s">21</text><text x="339" y="1459" class="c s">22</text><text x="360" y="1459" class="c s">23</text><text x="381" y="1459" class="c s">24</text>
</g>

<!-- B135 -->
<text x="533" y="1396">B:</text>
<ellipse cx="582" cy="1390" rx="27" ry="15" class="p"/><text x="582" y="1395" class="c">B135</text><text x="612" y="1382">HR</text>
<g class="l" style="stroke-width:1.5">
<path d="M453,1418 H517 V1439 M539,1439 V1418 H710 V1502 H667 V1460 M453,1418 V1502 H539 V1460 M581,1460 V1502 H624 V1460"/>
<path d="M453,1439 H710 M453,1460 H710 M453,1481 H539 M581,1481 H624 M667,1481 H710"/>
<path d="M485,1418 V1439 M573,1418 V1439 M607,1418 V1439 M642,1418 V1439 M676,1418 V1439"/>
<path d="M474,1439 V1502 M496,1439 V1502 M517,1439 V1502 M539,1439 V1460 M560,1439 V1460 M581,1439 V1460 M603,1439 V1502 M624,1439 V1460 M646,1439 V1460 M667,1439 V1460 M688,1439 V1502"/>
</g>
<text x="469" y="1434" class="c s">1</text><text x="501" y="1434" class="c s">2</text><text x="556" y="1434" class="c s">3</text><text x="590" y="1434" class="c s">4</text><text x="624" y="1434" class="c s">5</text><text x="659" y="1434" class="c s">6</text><text x="693" y="1434" class="c s">7</text>
<text x="464" y="1455" class="c s">8</text><text x="485" y="1455" class="c s">9</text><text x="506" y="1455" class="c s">10</text><text x="528" y="1455" class="c s">11</text><text x="549" y="1455" class="c s">12</text><text x="570" y="1455" class="c s">13</text><text x="592" y="1455" class="c s">14</text><text x="613" y="1455" class="c s">15</text><text x="635" y="1455" class="c s">16</text><text x="656" y="1455" class="c s">17</text><text x="677" y="1455" class="c s">18</text><text x="699" y="1455" class="c s">19</text>
<text x="464" y="1476" class="c s">20</text><text x="485" y="1476" class="c s">21</text><text x="506" y="1476" class="c s">22</text><text x="528" y="1476" class="c s">23</text><text x="592" y="1476" class="c s">24</text><text x="613" y="1476" class="c s">25</text><text x="677" y="1476" class="c s">26</text><text x="699" y="1476" class="c s">27</text>
<text x="464" y="1497" class="c s">28</text><text x="485" y="1497" class="c s">29</text><text x="506" y="1497" class="c s">30</text><text x="528" y="1497" class="c s">31</text><text x="592" y="1497" class="c s">32</text><text x="613" y="1497" class="c s">33</text><text x="677" y="1497" class="c s">34</text><text x="699" y="1497" class="c s">35</text>

<!-- B136 -->
<text x="840" y="1396">C:</text>
<ellipse cx="888" cy="1390" rx="27" ry="15" class="p"/><text x="888" y="1395" class="c">B136</text><text x="918" y="1382">HR</text>
<g class="l" style="stroke-width:1.5">
<path d="M791,1460 V1418 H910 V1439 M930,1439 V1418 H1005 V1502 H898 V1481 M770,1460 V1502 H834 V1481"/>
<path d="M791,1439 H1005 M770,1460 H1005 M770,1481 H1005"/>
<path d="M821,1418 V1439 M851,1418 V1439 M880,1418 V1439 M968,1418 V1439"/>
<path d="M813,1439 V1502 M834,1439 V1481 M856,1439 V1481 M877,1439 V1481 M898,1439 V1481 M920,1439 V1502 M941,1439 V1502 M963,1439 V1502 M984,1439 V1502 M791,1460 V1502"/>
</g>
<text x="806" y="1434" class="c s">1</text><text x="836" y="1434" class="c s">2</text><text x="866" y="1434" class="c s">3</text><text x="895" y="1434" class="c s">4</text><text x="949" y="1434" class="c s">5</text><text x="987" y="1434" class="c s">6</text>
<text x="802" y="1455" class="c s">7</text><text x="823" y="1455" class="c s">8</text><text x="845" y="1455" class="c s">9</text><text x="866" y="1455" class="c s">10</text><text x="887" y="1455" class="c s">11</text><text x="909" y="1455" class="c s">12</text><text x="930" y="1455" class="c s">13</text><text x="952" y="1455" class="c s">14</text><text x="973" y="1455" class="c s">15</text><text x="994" y="1455" class="c s">16</text>
<text x="780" y="1476" class="c s">17</text><text x="802" y="1476" class="c s">18</text><text x="823" y="1476" class="c s">19</text><text x="845" y="1476" class="c s">20</text><text x="866" y="1476" class="c s">21</text><text x="887" y="1476" class="c s">22</text><text x="909" y="1476" class="c s">23</text><text x="930" y="1476" class="c s">24</text><text x="952" y="1476" class="c s">25</text><text x="973" y="1476" class="c s">26</text><text x="994" y="1476" class="c s">27</text>
<text x="780" y="1497" class="c s">28</text><text x="802" y="1497" class="c s">29</text><text x="823" y="1497" class="c s">30</text><text x="909" y="1497" class="c s">31</text><text x="930" y="1497" class="c s">32</text><text x="952" y="1497" class="c s">33</text><text x="973" y="1497" class="c s">34</text><text x="994" y="1497" class="c s">35</text>

<text x="1402" y="1522" text-anchor="end" style="font-weight:normal;font-size:17px">WI-14990</text>
</svg>
</body></html>
